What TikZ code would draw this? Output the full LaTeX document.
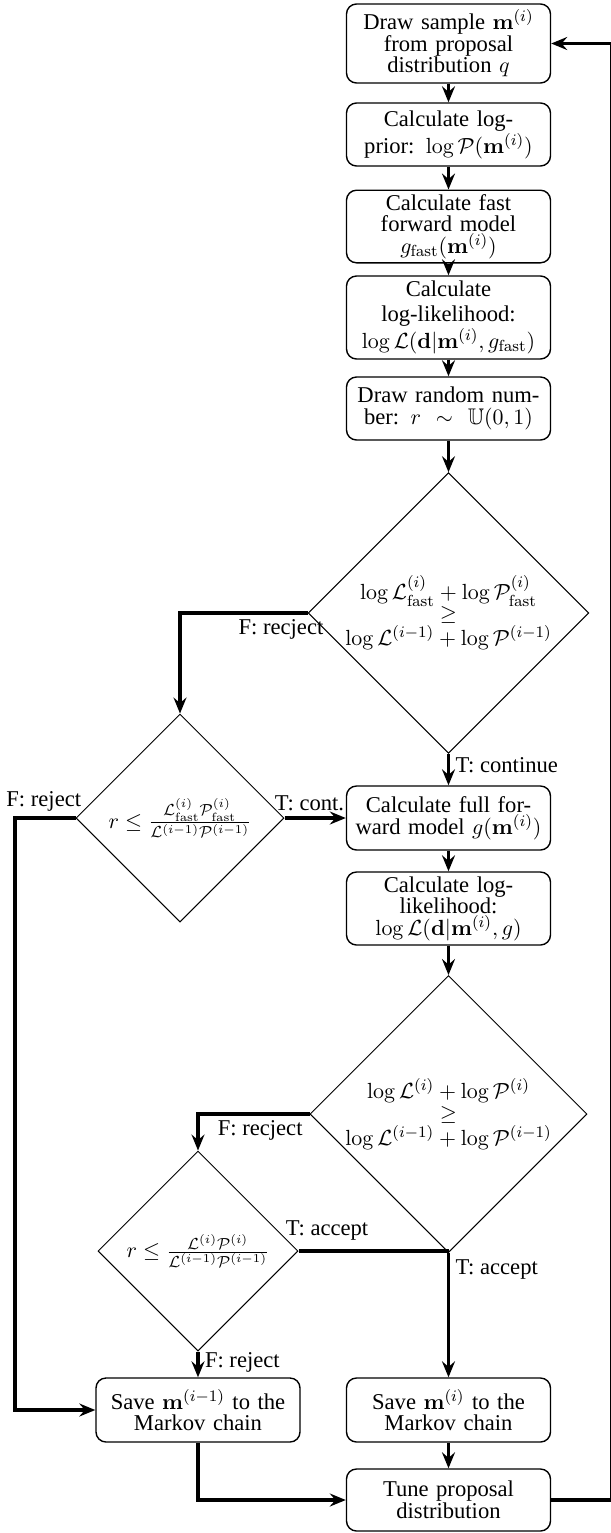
\documentclass[tikz,border=0pt]{standalone}
\usepackage{amsmath,amssymb}
\usepackage[no-math]{fontspec}
\setmainfont{Liberation Serif}
\usetikzlibrary{positioning,arrows.meta,shapes.geometric}
\tikzset{
  >={Stealth[length=8pt,width=6.5pt,inset=2.8pt]},
  fsz/.style={font=\fontsize{11.3}{10.8}\selectfont},
  stepbox/.style={draw,rounded corners=5pt,line width=0.7pt,minimum width=102pt,
    text width=94pt,align=center,inner xsep=4pt,inner ysep=2pt,fsz},
  decision/.style={draw,diamond,aspect=1,line width=0.5pt,inner sep=0pt,
    align=center,fsz},
  flow/.style={->,line width=1.8pt},
  rail/.style={line width=1.8pt},
  flowlbl/.style={fsz,inner sep=3.3pt},
}
\begin{document}
\begin{tikzpicture}[x=0.5pt,y=-0.5pt]
  \useasboundingbox (0,0) rectangle (611,1533);
  % main column
  \node[stepbox,minimum height=39.5pt] (drawm) at (448.5,43.5)
    {Draw sample $\mathbf{m}^{(i)}$\\from proposal\\distribution $q$};
  \node[stepbox,minimum height=31.5pt] (prior) at (448.5,134.5)
    {Calculate log-\\prior: $\log\mathcal{P}(\mathbf{m}^{(i)})$};
  \node[stepbox,minimum height=35.5pt] (fastfwd) at (448.5,226.5)
    {Calculate fast\\forward model\\$g_{\mathrm{fast}}(\mathbf{m}^{(i)})$};
  \node[stepbox,minimum height=41.5pt,font=\fontsize{11.3}{12.4}\selectfont] (fastlik) at (448.5,317.5)
    {Calculate\\log-likelihood:\\$\log\mathcal{L}(\mathbf{d}|\mathbf{m}^{(i)},g_{\mathrm{fast}})$};
  \node[stepbox,minimum height=31.5pt] (rnd) at (448.5,408.5)
    {Draw random num-\\ber: $r~\sim~\mathbb{U}(0,1)$};
  \node[decision,minimum size=131pt] (fastchk) at (448.5,613)
    {$\log\mathcal{L}^{(i)}_{\mathrm{fast}}+\log\mathcal{P}^{(i)}_{\mathrm{fast}}$\\$\geq$\\
     $\log\mathcal{L}^{(i-1)}+\log\mathcal{P}^{(i-1)}$};
  \node[stepbox,minimum height=32pt] (fullfwd) at (448.5,818)
    {Calculate full for-\\ward model $g(\mathbf{m}^{(i)})$};
  \node[stepbox,minimum height=36.5pt] (fulllik) at (448.5,908.5)
    {Calculate log-\\likelihood:\\$\log\mathcal{L}(\mathbf{d}|\mathbf{m}^{(i)},g)$};
  \node[decision,minimum size=131pt] (fullchk) at (448.5,1114)
    {$\log\mathcal{L}^{(i)}+\log\mathcal{P}^{(i)}$\\$\geq$\\
     $\log\mathcal{L}^{(i-1)}+\log\mathcal{P}^{(i-1)}$};
  \node[stepbox,minimum height=32pt] (savnew) at (448.5,1410)
    {Save $\mathbf{m}^{(i)}$ to the\\Markov chain};
  \node[stepbox,minimum height=31pt] (tune) at (448.5,1500)
    {Tune proposal\\distribution};
  % side column
  \node[decision,minimum size=104pt] (fastacc) at (180,818)
    {$r\leq\frac{\mathcal{L}^{(i)}_{\mathrm{fast}}\mathcal{P}^{(i)}_{\mathrm{fast}}}{\mathcal{L}^{(i-1)}\mathcal{P}^{(i-1)}}$};
  \node[decision,minimum size=100pt] (fullacc) at (198,1251)
    {$r\leq\frac{\mathcal{L}^{(i)}\mathcal{P}^{(i)}}{\mathcal{L}^{(i-1)}\mathcal{P}^{(i-1)}}$};
  \node[stepbox,minimum height=32pt] (savold) at (198,1410)
    {Save $\mathbf{m}^{(i-1)}$ to the\\Markov chain};
  \coordinate (leftrail) at (15,0);
  \coordinate (rightrail) at (611.5,0);

  \draw[flow] (drawm) -- (prior);
  \draw[flow] (prior) -- (fastfwd);
  \draw[flow] (fastfwd) -- (fastlik);
  \draw[flow] (fastlik) -- (rnd);
  \draw[flow] (rnd) -- (fastchk.north);
  \draw[flow] (fastchk.west) -| (fastacc.north);
  \draw[flow] (fastchk.south) -- (fullfwd);
  \draw[flow] (fastacc.east) -- (fullfwd.west);
  \draw[flow] (fastacc.west) -- (fastacc.west -| leftrail) |- (savold.west);
  \draw[flow] (fullfwd) -- (fulllik);
  \draw[flow] (fulllik) -- (fullchk.north);
  \draw[flow] (fullchk.west) -| (fullacc.north);
  \draw[flow] (fullchk.south) -- (savnew);
  \draw[rail] (fullacc.east) -- (fullacc.east -| fullchk.south);
  \draw[flow] (fullacc.south) -- (savold);
  \draw[flow] (savnew) -- (tune);
  \draw[flow] (savold.south) |- (tune.west);
  \draw[flow] (tune.east) -- (tune.east -| rightrail) |- (drawm.east);

  % branch labels
  \node[flowlbl,anchor=north east,xshift=11.3pt] (l1) at (fastchk.west) {F: recject};
  \node[flowlbl,anchor=north west,yshift=1.5pt] (l2) at (fastchk.south) {T: continue};
  \node[flowlbl,anchor=south east,xshift=6.3pt] (l3) at (fastacc.west) {F: reject};
  \node[flowlbl,anchor=south west,xshift=-8.3pt] (l4) at (fastacc.east) {T: cont.};
  \node[flowlbl,anchor=north east] (l5) at (fullchk.west) {F: recject};
  \node[flowlbl,anchor=north west] (l6) at (fullchk.south) {T: accept};
  \node[flowlbl,anchor=south west,xshift=-9.8pt,yshift=1.7pt] (l7) at (fullacc.east) {T: accept};
  \node[flowlbl,anchor=north west,yshift=3pt] (l8) at (fullacc.south) {F: reject};
\end{tikzpicture}
\end{document}
